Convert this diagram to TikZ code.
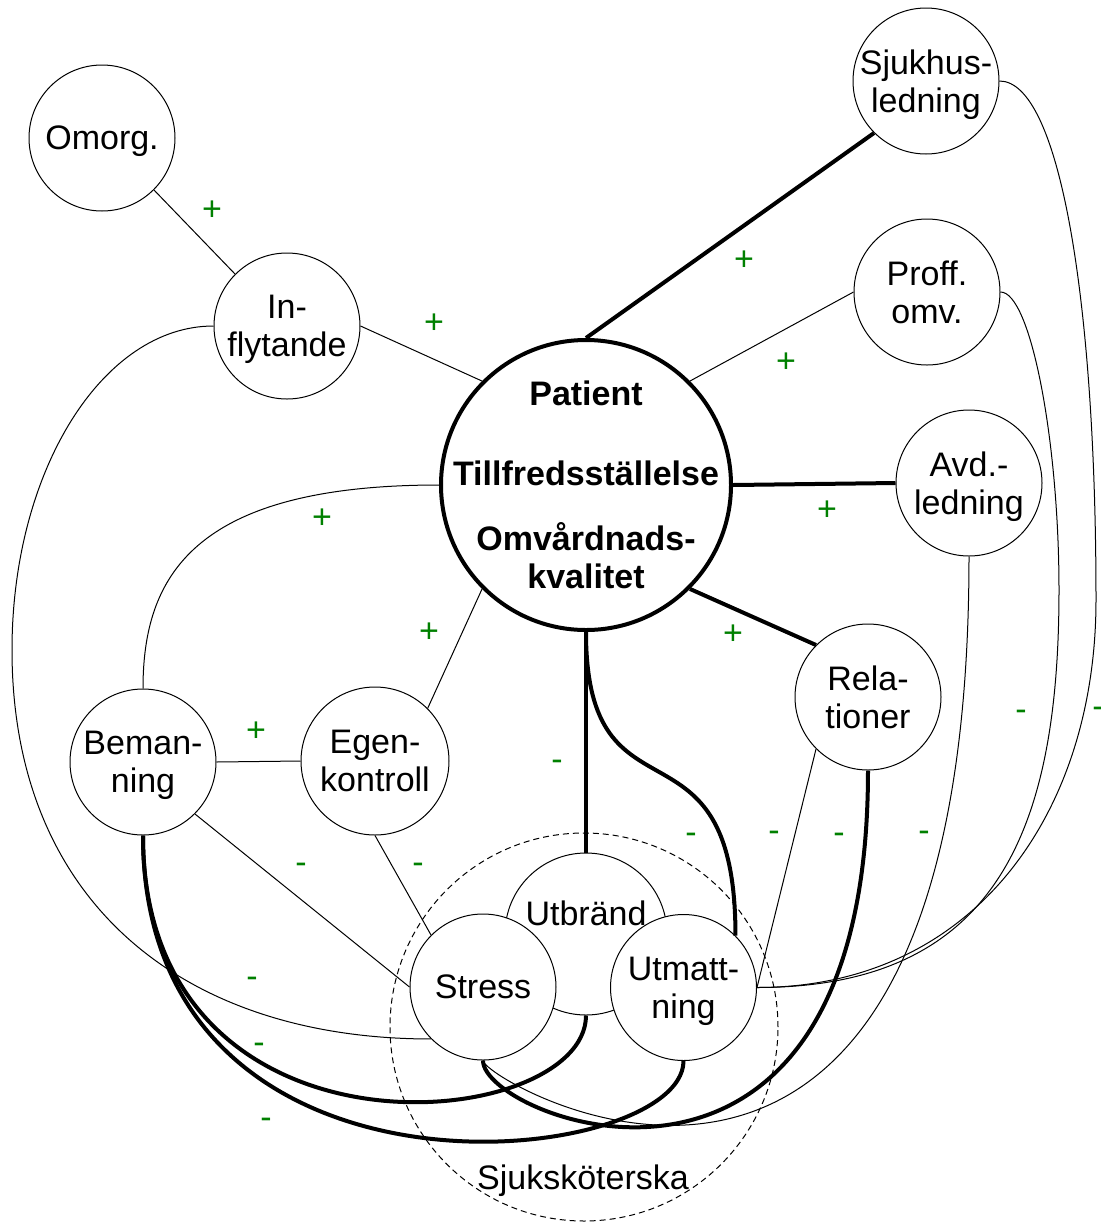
\documentclass[tikz,border=0pt]{standalone}
\usepackage{fontspec}
\setmainfont{Liberation Sans}
\definecolor{signgreen}{RGB}{0,128,0}
\tikzset{
  txt/.style={inner sep=0pt, font=\fontsize{17}{19}\selectfont},
  bubble/.style={circle, draw, line width=0.5pt, fill=white, minimum size=73pt,
    inner sep=0pt, align=center, text depth=0pt, font=\fontsize{17}{19}\selectfont},
  bigbubble/.style={circle, draw, line width=2pt, fill=white, minimum size=145pt,
    inner sep=0pt},
  bigtext/.style={inner sep=0pt, align=center, font=\fontsize{17}{19}\selectfont\bfseries},
  groupring/.style={circle, draw, line width=0.5pt, dash pattern=on 3pt off 2pt,
    minimum size=194pt, inner sep=0pt},
  thinc/.style={line width=0.5pt},
  thickc/.style={line width=2pt},
  plussign/.style={text=signgreen, inner sep=0pt, text height=0.7em, text depth=0pt,
    font=\fontsize{17}{19}\selectfont},
  minussign/.style={text=signgreen, inner sep=0pt, text height=0.56em, text depth=0pt,
    font=\fontsize{17}{19}\selectfont},
}
\begin{document}
\begin{tikzpicture}[x=0.5pt, y=-0.5pt]
\useasboundingbox (0,0) rectangle (1101,1227);

% group ring
\node[groupring] (sjuk) at (584,1027) {};
\node[txt, anchor=base] (sjuktext) at (583,1189) {Sjuksköterska};

% nodes
\node[bubble] (omorg) at (102,138) {Omorg.};
\node[bubble] (infl) at (287,326) {In-\\flytande};
\node[bubble] (sjukhus) at (926,81) {Sjukhus-\\ledning};
\node[bubble] (proff) at (927,292) {Proff.\\omv.};
\node[bigbubble] (patient) at (586,485) {};
\node[bigtext] (patienttext) at (patient.center)
  {Patient\\[21pt]Tillfredsställelse\\[13.5pt]Omvårdnads-\\kvalitet};
\node[bubble] (avd) at (969,483) {Avd.-\\ledning};
\node[bubble] (relat) at (868,697) {Rela-\\tioner};
\node[bubble] (beman) at (143,762) {Beman-\\ning};
\node[bubble, minimum size=74pt] (egen) at (375,761) {Egen-\\kontroll};
\node[bubble, minimum size=81pt] (utb) at (586,934) {};
\node[txt, anchor=base] (utbtext) at (586,925) {Utbränd};
\node[bubble] (stress) at (483,987) {Stress};
\node[bubble] (utmatt) at (683.5,987.5) {Utmatt-\\ning};

% helper points for long curves
\coordinate (bendL) at (12,650);
\coordinate (bendS) at (1096,600);
\coordinate (bendP) at (1059,590);

% straight connectors
\draw[thinc] (omorg.south east) -- (infl.north west);
\draw[thinc] (infl.east) -- (patient.north west);
\draw[thickc] (sjukhus.south west) -- (patient.north);
\draw[thinc] (proff.west) -- (patient.north east);
\draw[thickc] (avd.west) -- (patient.east);
\draw[thickc] (relat.north west) -- (patient.south east);
\draw[thinc] (patient.south west) -- (egen.north east);
\draw[thinc] (beman.east) -- (egen.west);
\draw[thinc] (beman.south east) -- (stress.west);
\draw[thinc] (egen.south) -- (stress.north west);
\draw[thickc] (patient.south) -- (utb.north);
\draw[thinc] (relat.south west) -- (utmatt.east);

% curved connectors
\draw[thinc] (patient.west) .. controls +(-247,0) and +(0,-111) .. (beman.north);
\draw[thinc] (infl.west) .. controls +(-111,0) and +(0,-179) .. (bendL)
  .. controls +(0,250) and +(-250,0) .. (stress.south west);
\draw[thickc] (patient.south) .. controls +(0,204) and +(0,-233) .. (utmatt.north east);
\draw[thickc] (beman.south) .. controls +(0,343) and +(0,118) .. (utb.south);
\draw[thickc] (beman.south) .. controls +(0,395) and +(0,107) .. (utmatt.south);
\draw[thickc] (stress.south) .. controls +(0,59) and +(0,496) .. (relat.south);
\draw[thinc] (avd.south) .. controls +(0,808) and +(0,21) .. (stress.south);
\draw[thinc] (sjukhus.east) .. controls +(60,0) and +(0,-300) .. (bendS)
  .. controls +(0,213) and +(217,0) .. (utmatt.east);
\draw[thinc] (proff.east) .. controls +(30,0) and +(0,-150) .. (bendP)
  .. controls +(0,240) and +(240,0) .. (utmatt.east);

% signs
\node[plussign] (p1) at (212,213) {+};
\node[plussign] (p2) at (434,326) {+};
\node[plussign] (p3) at (744,263) {+};
\node[plussign] (p4) at (786,365) {+};
\node[plussign] (p5) at (827,513) {+};
\node[plussign] (p6) at (733,637) {+};
\node[plussign] (p7) at (322,521) {+};
\node[plussign] (p8) at (429,635) {+};
\node[plussign] (p9) at (256,734) {+};
\node[minussign] (m1) at (301,868) {-};
\node[minussign] (m2) at (418,868) {-};
\node[minussign] (m3) at (252,982) {-};
\node[minussign] (m4) at (259,1048) {-};
\node[minussign] (m5) at (266,1123) {-};
\node[minussign] (m6) at (557,765) {-};
\node[minussign] (m7) at (691,838) {-};
\node[minussign] (m8) at (774,836) {-};
\node[minussign] (m9) at (839,838) {-};
\node[minussign] (m10) at (924,836) {-};
\node[minussign] (m11) at (1021,715) {-};
\node[minussign] (m12) at (1098,712) {-};
\end{tikzpicture}
\end{document}
